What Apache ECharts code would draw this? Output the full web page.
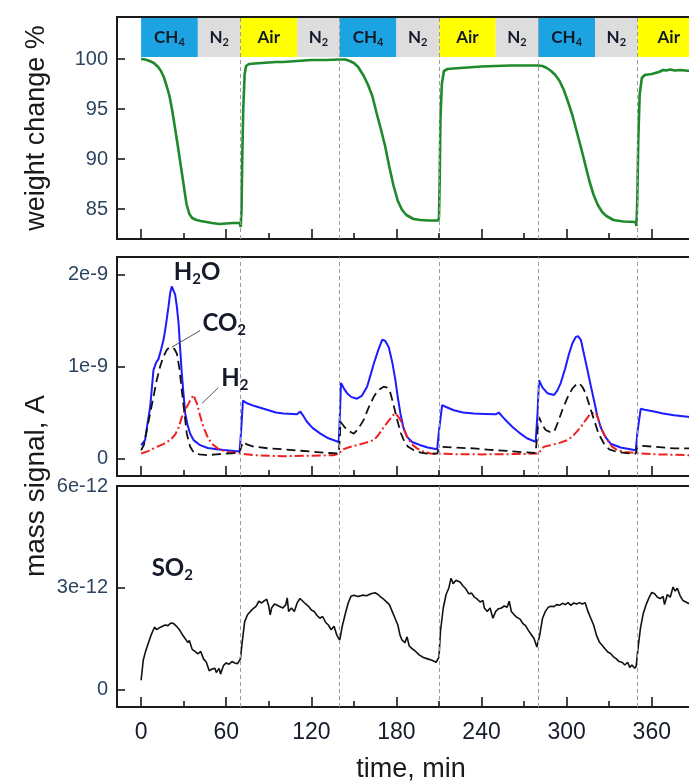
<!DOCTYPE html>
<html><head><meta charset="utf-8">
<script src="https://cdn.jsdelivr.net/npm/echarts@6.0.0/dist/echarts.min.js"></script>
<style>html,body{margin:0;padding:0;background:#fff;overflow:hidden}#c{width:700px;height:784px}</style>
</head><body><div id="c"></div>
<script>
// ---- axis ticks / categories ----
const xMajorTicks = [0, 60, 120, 180, 240, 300, 360];
const xMinorTicks = [30, 90, 150, 210, 270, 330, 390];
const weightTicks = [85, 90, 95, 100];
const signalTicks = [0, 1, 2];        // units of 1e-9 A
const so2Ticks = [0, 3, 6];           // units of 1e-12 A
const stepTimes = [70, 140, 210, 280, 350];
const gasNames = ['CH4', 'N2', 'Air', 'N2', 'CH4', 'N2', 'Air', 'N2', 'CH4', 'N2', 'Air'];
const gasStart = [0, 40, 70, 110, 140, 180, 210, 250, 280, 320, 350];
const gasEnd   = [40, 70, 110, 140, 180, 210, 250, 280, 320, 350, 400];

// ---- series values: [time min, value] ----
const weight = [[0,100],[3,99.95],[6,99.8],[9,99.6],[12,99.2],[14,98.8],[16,98.2],[18,97.3],[20,96.3],[22,94.8],[24,93],[26,91.2],[28,89.3],[30,87.4],[32,85.5],[34,84.5],[36,84.1],[39,83.9],[42,83.8],[46,83.7],[50,83.6],[55,83.5],[60,83.55],[65,83.6],[69.5,83.6],[70.2,83.2],[70.8,85],[71.3,90],[72,95],[73,98.5],[74,99.3],[76,99.5],[80,99.55],[85,99.6],[90,99.65],[95,99.7],[100,99.7],[105,99.75],[110,99.8],[115,99.85],[120,99.9],[130,99.9],[140,99.95],[144,99.95],[147,99.8],[150,99.6],[153,99.2],[157,98.3],[160,97.4],[163,96.3],[166,94.6],[169,93],[172,91.3],[175,89.2],[178,87.3],[181,85.8],[184,84.9],[187,84.4],[192,84],[197,83.9],[203,83.85],[209.5,83.85],[210,84.2],[210.5,88],[211,94],[212,97.5],[213.5,98.8],[216,99],[220,99.05],[225,99.1],[230,99.15],[240,99.25],[250,99.3],[260,99.35],[270,99.35],[280,99.35],[283,99.3],[286,99.1],[289,98.8],[292,98.4],[295,97.8],[298,96.9],[301,95.7],[304,94.4],[307,92.8],[310,91.2],[313,89.5],[316,87.8],[319,86.4],[322,85.4],[325,84.7],[328,84.3],[333,83.9],[340,83.75],[348.5,83.7],[349.2,83.3],[349.8,86],[350.5,92],[351.5,96.5],[353,98.1],[355,98.4],[360,98.5],[365,98.7],[368,98.9],[370,98.85],[373,98.95],[376,98.85],[380,98.9],[386.8,98.8]];

const h2o = [[0,0.145],[2.8,0.2],[4.5,0.38],[6.4,0.56],[8.7,0.96],[10.5,1.04],[12.2,1.08],[14,1.18],[15.8,1.29],[17.5,1.45],[19.3,1.65],[20.5,1.8],[21.6,1.87],[22.8,1.85],[24,1.78],[25.2,1.65],[26.4,1.47],[27.5,1.2],[28.7,0.92],[30,0.68],[31.1,0.49],[32.8,0.36],[34.6,0.27],[37,0.2],[41.6,0.145],[47,0.115],[53.4,0.1],[60,0.09],[69.4,0.075],[70.5,0.3],[71.8,0.63],[74.6,0.6],[80,0.57],[88.7,0.53],[95,0.5],[100.5,0.49],[109.9,0.48],[112.2,0.51],[114.5,0.46],[116.9,0.4],[121,0.33],[126.4,0.27],[132,0.22],[139.3,0.18],[140.2,0.5],[140.9,0.82],[143,0.76],[145.2,0.71],[148,0.67],[152.2,0.65],[155.5,0.68],[159.3,0.78],[162,0.92],[164,1.03],[167,1.17],[169.9,1.29],[172,1.28],[174.6,1.21],[177,1.05],[179.3,0.85],[181,0.66],[182.8,0.49],[185,0.33],[187.5,0.235],[191,0.18],[196.9,0.145],[202,0.12],[208.7,0.1],[210,0.3],[212.2,0.58],[215,0.56],[220.4,0.525],[227,0.5],[234.5,0.49],[242,0.485],[249.9,0.48],[252.2,0.5],[255,0.45],[258.1,0.4],[262,0.34],[267.5,0.27],[272,0.22],[278.1,0.18],[279.5,0.5],[280.5,0.85],[283,0.77],[286.4,0.71],[291.1,0.69],[293.5,0.74],[295.8,0.82],[299,0.98],[301.7,1.14],[304,1.25],[306.4,1.32],[308,1.33],[310,1.29],[312,1.15],[314.7,0.96],[317,0.79],[319.3,0.63],[321.5,0.47],[324,0.34],[327,0.24],[331.1,0.16],[338,0.12],[348.7,0.09],[350,0.3],[352.2,0.54],[355,0.53],[361.6,0.51],[368,0.49],[375.7,0.47],[386.8,0.45]];

const co2 = [[0,0.09],[2,0.15],[4,0.31],[6.5,0.5],[8.7,0.67],[11,0.85],[13.4,1.0],[15.5,1.1],[18.1,1.18],[20,1.21],[21.6,1.21],[23.5,1.19],[25.2,1.14],[27,0.98],[28.7,0.74],[30.5,0.5],[32.2,0.27],[34.5,0.13],[36.9,0.07],[41,0.045],[46.4,0.036],[53,0.045],[60.5,0.054],[69.4,0.06],[70.4,0.12],[71.8,0.18],[75,0.15],[79.3,0.13],[90,0.11],[100.5,0.1],[112,0.085],[124,0.07],[132,0.06],[139.3,0.054],[140.2,0.25],[140.5,0.4],[143,0.35],[145.2,0.31],[149.9,0.27],[153,0.32],[156.9,0.42],[160,0.54],[164,0.67],[167,0.74],[171,0.78],[173.5,0.77],[175.8,0.71],[178,0.58],[180.5,0.42],[183,0.28],[185.2,0.2],[188,0.13],[192.3,0.09],[197,0.065],[201.7,0.054],[208.7,0.054],[210,0.11],[212.2,0.127],[220,0.12],[234.5,0.11],[246,0.095],[258.1,0.083],[268,0.07],[278.1,0.06],[279.5,0.3],[280.5,0.45],[283,0.36],[285.2,0.31],[288,0.29],[291.1,0.29],[294,0.4],[297,0.53],[300.5,0.66],[304,0.76],[306.5,0.8],[308.7,0.82],[311,0.78],[313.4,0.71],[316,0.58],[319.3,0.42],[322.5,0.27],[326.4,0.16],[330,0.1],[335.8,0.07],[342,0.058],[348.7,0.054],[350,0.14],[351,0.156],[360,0.13],[375.7,0.11],[386.8,0.11]];

const h2 = [[0,0.054],[5,0.08],[11.1,0.127],[16,0.16],[20.5,0.2],[24,0.26],[26.5,0.34],[28.7,0.45],[31.5,0.54],[34.6,0.63],[36.9,0.69],[38,0.67],[39.3,0.6],[41.5,0.47],[44,0.34],[47,0.23],[49.9,0.16],[54,0.11],[60.5,0.072],[70,0.054],[79.3,0.036],[90,0.03],[100.5,0.025],[118,0.03],[135.6,0.036],[140,0.054],[141,0.09],[146,0.12],[152.2,0.145],[158,0.17],[164,0.2],[167,0.25],[171,0.34],[175,0.42],[177.5,0.47],[179.3,0.49],[181,0.46],[182.8,0.42],[185,0.33],[187.5,0.235],[190.5,0.16],[194.5,0.11],[199,0.075],[204,0.054],[222.8,0.047],[240,0.045],[258.1,0.047],[270,0.05],[280.5,0.054],[282,0.1],[284,0.127],[290,0.15],[295,0.17],[300.5,0.2],[304,0.24],[307,0.29],[309.9,0.34],[313,0.41],[316.9,0.49],[320.5,0.5],[322,0.44],[324,0.34],[326.5,0.26],[328.7,0.2],[332,0.13],[335.8,0.09],[341,0.07],[348.7,0.06],[352,0.054],[365,0.045],[386.8,0.036]];

const so2 = [[0,0.27],[1.5,0.86],[3,1.1],[5,1.35],[7,1.6],[9.5,1.84],[11,1.76],[13,1.82],[15,1.86],[17,1.9],[19,1.88],[21,1.96],[23,1.94],[25,1.86],[27,1.76],[29,1.62],[31,1.5],[33,1.38],[34,1.44],[36,1.18],[38,1.12],[40,1.05],[42,1.12],[44,0.9],[46,0.8],[48,0.55],[50,0.6],[52,0.62],[53,0.5],[55,0.62],[56,0.45],[58,0.7],[60,0.78],[62,0.74],[64,0.82],[66,0.78],[68,0.76],[70,0.9],[71,1.3],[73,2.0],[75,2.2],[77,2.3],[79,2.38],[81,2.45],[83,2.6],[85,2.55],[87,2.62],[88.5,2.66],[90,2.45],[91,2.2],[92,2.4],[94,2.52],[96,2.48],[98,2.44],[100,2.4],[102,2.5],[103,2.7],[104,2.3],[106,2.4],[108,2.3],[110,2.55],[112,2.68],[114,2.6],[116,2.52],[118,2.45],[120,2.34],[122,2.3],[124,2.18],[126,2.1],[128,2.15],[130,1.98],[132,1.9],[134,1.76],[136,1.86],[138,1.6],[140,1.45],[142,1.9],[144,2.24],[146,2.55],[148,2.75],[150,2.78],[153,2.74],[156,2.78],[159,2.76],[162,2.82],[165,2.85],[167,2.8],[169,2.72],[171,2.66],[173,2.58],[175,2.5],[177,2.3],[179,2.1],[181,1.9],[182.5,1.6],[184,1.45],[186,1.38],[187.5,1.55],[189,1.28],[191,1.2],[193,1.14],[196,1.02],[199,0.94],[202,0.9],[205,0.86],[208,0.8],[210,0.95],[211,1.7],[213,2.4],[215,2.8],[217,3.0],[218.5,3.28],[220,3.12],[222,3.22],[225,3.16],[227,3.05],[229,2.96],[231,2.82],[233,2.84],[235,2.72],[237,2.66],[239,2.58],[241,2.62],[242,2.4],[244,2.3],[246,2.4],[248,2.1],[250,2.3],[252,2.38],[254,2.4],[256,2.46],[258,2.42],[259.5,2.6],[261,2.3],[263,2.2],[265,2.12],[267,2.08],[269,1.95],[271,1.88],[273,1.74],[275,1.62],[277,1.5],[279,1.25],[281,1.6],[283,2.1],[285,2.3],[287,2.42],[289,2.45],[291,2.44],[293,2.5],[295,2.48],[297,2.54],[299,2.5],[301,2.56],[303,2.48],[305,2.55],[307,2.52],[309,2.56],[311,2.52],[313,2.56],[315,2.3],[317,2.1],[319,1.9],[321,1.6],[323,1.4],[325,1.3],[327,1.2],[329,1.1],[331,1.06],[333,0.96],[335,0.9],[337,0.82],[339,0.8],[341,0.72],[343,0.8],[344.5,0.65],[346,0.72],[348,0.62],[349,0.68],[350,1.1],[352,1.8],[354,2.24],[356,2.5],[358,2.7],[360,2.86],[362,2.82],[364,2.72],[366,2.68],[368,2.74],[369,2.5],[371,2.8],[373,2.72],[375,3.02],[376.5,2.9],[378,2.98],[380,2.76],[382,2.62],[384,2.58],[386.8,2.52]];

// ---- annotations (label position in data coords) ----
const labelH2O = [39.5, 2.02];
const labelCO2 = [58.6, 1.47];
const labelH2  = [66, 0.87];
const labelSO2 = [22, 3.57];
const leaderCO2 = [[41.6, 1.39], [21.6, 1.21]];
const leaderH2  = [[54.4, 0.77], [43, 0.60]];

// ---- styling / layout ----
const CHART_W = 700;
const X_MIN = -17, X_MAX = 394;
const LEFT = 117, RIGHT = 0;
const PLOT_W = CHART_W - LEFT - RIGHT;
const PANELS = [
  { top: 17, height: 222, min: 82, max: 104.2 },
  { top: 257, height: 219, min: -0.19, max: 2.19 },
  { top: 486, height: 221, min: -0.52, max: 6 }
];
const axisFont = 'Liberation Sans, Arial, sans-serif';
const noteFont = 'Lato, Open Sans, sans-serif';
const gasColor = { 'CH4': '#1ba3e2', 'N2': '#dddddd', 'Air': '#ffff00' };
const richSub = (size) => ({
  n: { fontSize: size, fontWeight: 'bold', fontFamily: noteFont, color: '#141a2a', lineHeight: size + 4, verticalAlign: 'middle' },
  s: { fontSize: Math.round(size * 0.62), fontWeight: 'bold', fontFamily: noteFont, color: '#141a2a', lineHeight: size + 4, verticalAlign: 'bottom', padding: [Math.round(size*0.45), 0, 0, 0] }
});
function gasText(name) {
  if (name === 'CH4') return '{n|CH}{s|4}';
  if (name === 'N2') return '{n|N}{s|2}';
  return '{n|' + name + '}';
}
const bands = gasNames.map((g, i) => [
  { xAxis: gasStart[i], yAxis: 100.2, itemStyle: { color: gasColor[g], opacity: 1 },
    label: { show: true, position: 'inside', formatter: gasText(g), rich: richSub(17) } },
  { xAxis: gasEnd[i], yAxis: 104.1 }
]);

function xAx(gi, showLabel) {
  return {
    type: 'value', gridIndex: gi, min: X_MIN, max: X_MAX,
    axisLine: { show: false, onZero: false }, splitLine: { show: false }, axisTick: { show: false },
    axisLabel: { show: showLabel, customValues: xMajorTicks, margin: 14, fontSize: 23, fontFamily: axisFont, color: '#151c2b' }
  };
}
function yAx(gi, ticks, fmt) {
  return {
    type: 'value', gridIndex: gi, min: PANELS[gi].min, max: PANELS[gi].max,
    axisLine: { show: false, onZero: false }, splitLine: { show: false }, axisTick: { show: false },
    axisLabel: { customValues: ticks, margin: 9, fontSize: 20, fontFamily: axisFont, color: '#2c4560', formatter: fmt }
  };
}
// inward tick marks: tick values placed through the axes; lengths converted from px to data units
function tickMarkSeries(gi, yTicks) {
  const p = PANELS[gi];
  const perPxY = (p.max - p.min) / p.height;
  const perPxX = (X_MAX - X_MIN) / PLOT_W;
  const data = []
    .concat(xMajorTicks.map(t => [{ coord: [t, p.min] }, { coord: [t, p.min + 10 * perPxY] }]))
    .concat(xMinorTicks.map(t => [{ coord: [t, p.min] }, { coord: [t, p.min + 6 * perPxY] }]))
    .concat(yTicks.map(v => [{ coord: [X_MIN, v] }, { coord: [X_MIN + 8 * perPxX, v] }]));
  return {
    type: 'line', xAxisIndex: gi, yAxisIndex: gi, data: [], z: 6, silent: true,
    markLine: { silent: true, symbol: ['none', 'none'], label: { show: false }, precision: 6,
      lineStyle: { type: 'solid', color: '#1a1a1a', width: 1.6 }, data: data }
  };
}
// dashed gas-switch lines in each panel
function stepSeries(gi) {
  return {
    type: 'line', xAxisIndex: gi, yAxisIndex: gi, data: [], z: 1, silent: true,
    markLine: { silent: true, symbol: ['none', 'none'], label: { show: false },
      lineStyle: { type: [4, 3], color: '#9c9c9c', width: 1 },
      data: stepTimes.map(t => ({ xAxis: t })) }
  };
}
const gridStyle = { show: true, borderColor: '#1a1a1a', borderWidth: 2 };
const titleStyle = { fontSize: 27, fontFamily: axisFont, fill: '#1a1a1a', align: 'center', verticalAlign: 'middle' };

const option = {
  animation: false,
  grid: PANELS.map(p => Object.assign({ left: LEFT, right: RIGHT, top: p.top, height: p.height }, gridStyle)),
  xAxis: [xAx(0, false), xAx(1, false), xAx(2, true)],
  yAxis: [
    yAx(0, weightTicks, v => String(v)),
    yAx(1, signalTicks, v => v === 0 ? '0' : v + 'e-9'),
    yAx(2, so2Ticks, v => v === 0 ? '0' : v + 'e-12')
  ],
  graphic: [
    { type: 'text', x: 37, y: 128, rotation: Math.PI / 2, silent: true, style: Object.assign({ text: 'weight change %' }, titleStyle) },
    { type: 'text', x: 36, y: 486, rotation: Math.PI / 2, silent: true, style: Object.assign({ text: 'mass signal, A' }, titleStyle, { fontSize: 28 }) },
    { type: 'text', x: 411, y: 770, silent: true, style: Object.assign({ text: 'time, min' }, titleStyle) }
  ],
  series: [
    stepSeries(0), stepSeries(1), stepSeries(2),
    { type: 'line', name: 'weight', xAxisIndex: 0, yAxisIndex: 0, data: weight, showSymbol: false, z: 3,
      lineStyle: { color: '#1e8a2c', width: 2.6 },
      markArea: { silent: true, data: bands } },
    { type: 'line', name: 'H2O', xAxisIndex: 1, yAxisIndex: 1, data: h2o, showSymbol: false, z: 3,
      lineStyle: { color: '#1c1cff', width: 2 },
      markPoint: { silent: true, symbol: 'circle', symbolSize: 0,
        label: { show: true, position: 'inside', formatter: '{n|H}{s|2}{n|O}', rich: richSub(24) },
        data: [{ coord: labelH2O }] } },
    { type: 'line', name: 'CO2', xAxisIndex: 1, yAxisIndex: 1, data: co2, showSymbol: false, z: 4,
      lineStyle: { color: '#111111', width: 1.8, type: [9, 5] },
      markPoint: { silent: true, symbol: 'circle', symbolSize: 0,
        label: { show: true, position: 'inside', formatter: '{n|CO}{s|2}', rich: richSub(24) },
        data: [{ coord: labelCO2 }] },
      markLine: { silent: true, symbol: ['none', 'none'], label: { show: false },
        lineStyle: { type: 'solid', color: '#555555', width: 1 },
        data: [[{ coord: leaderCO2[0] }, { coord: leaderCO2[1] }], [{ coord: leaderH2[0] }, { coord: leaderH2[1] }]] } },
    { type: 'line', name: 'H2', xAxisIndex: 1, yAxisIndex: 1, data: h2, showSymbol: false, z: 3,
      lineStyle: { color: '#f02020', width: 2, type: [9, 3, 2, 3] },
      markPoint: { silent: true, symbol: 'circle', symbolSize: 0,
        label: { show: true, position: 'inside', formatter: '{n|H}{s|2}', rich: richSub(24) },
        data: [{ coord: labelH2 }] } },
    { type: 'line', name: 'SO2', xAxisIndex: 2, yAxisIndex: 2, data: so2, showSymbol: false, z: 3,
      lineStyle: { color: '#111111', width: 1.6 },
      markPoint: { silent: true, symbol: 'circle', symbolSize: 0,
        label: { show: true, position: 'inside', formatter: '{n|SO}{s|2}', rich: richSub(24) },
        data: [{ coord: labelSO2 }] } },
    tickMarkSeries(0, weightTicks), tickMarkSeries(1, signalTicks), tickMarkSeries(2, so2Ticks)
  ]
};
const chart = echarts.init(document.getElementById('c'), null, { renderer: 'canvas' });
chart.setOption(option);
</script></body></html>
